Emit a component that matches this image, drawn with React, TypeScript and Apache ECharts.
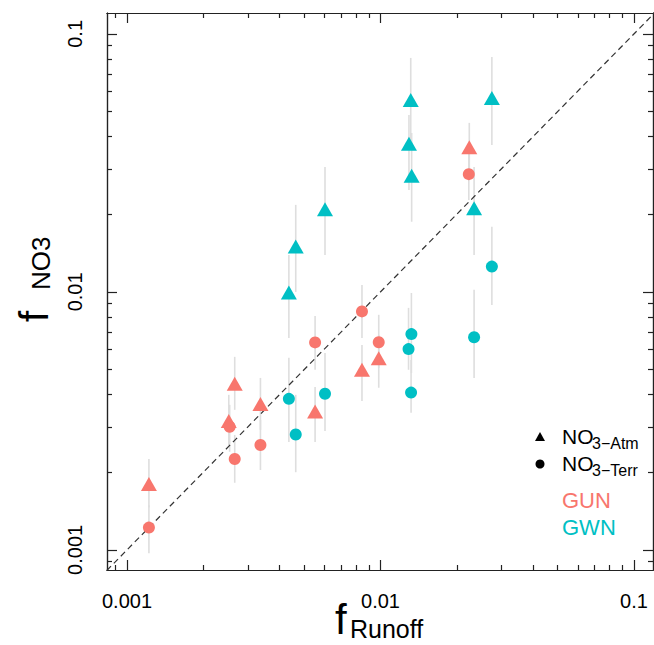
import React, { useEffect, useRef } from 'react';
import * as echarts from 'echarts';

const GUN_COLOR = '#F8766D';
const GWN_COLOR = '#00BFC4';
const BAR_COLOR = '#dedede';
const FONT = '"Liberation Sans", Arial, Helvetica, sans-serif';

// axis extents (log10 space)
const X_LOG_MIN = -3.079;
const X_LOG_MAX = -0.925;
const Y_LOG_MIN = -3.078;
const Y_LOG_MAX = -0.919;

// ticks
const majorTicks = [0.001, 0.01, 0.1];
const tickLabels = ['0.001', '0.01', '0.1'];
const minorTicks = [
  0.0009,
  0.002, 0.003, 0.004, 0.005, 0.006, 0.007, 0.008, 0.009,
  0.02, 0.03, 0.04, 0.05, 0.06, 0.07, 0.08, 0.09,
];
const oneToOne = [0.0005, 0.2];

// GUN – NO3-Atm (triangles)
const gunAtmRunoff = [0.00122, 0.00252, 0.00266, 0.00336, 0.00552, 0.00845, 0.00984, 0.0224];
const gunAtmF = [0.0018, 0.00316, 0.0044, 0.00368, 0.00344, 0.00499, 0.00553, 0.0364];
const gunAtmLo = [0.00146, 0.00255, 0.00349, 0.00292, 0.00262, 0.00378, 0.00425, 0.0284];
const gunAtmHi = [0.00225, 0.00399, 0.0056, 0.00464, 0.00428, 0.00623, 0.00681, 0.0452];

// GUN – NO3-Terr (circles)
const gunTerrRunoff = [0.00122, 0.00254, 0.00266, 0.00336, 0.00552, 0.00845, 0.00984, 0.0223];
const gunTerrF = [0.00122, 0.003, 0.00225, 0.00255, 0.00637, 0.0084, 0.00638, 0.0286];
const gunTerrLo = [0.00097, 0.0024, 0.00182, 0.00204, 0.00499, 0.00663, 0.00507, 0.0227];
const gunTerrHi = [0.00149, 0.00365, 0.00279, 0.00319, 0.00807, 0.01064, 0.00815, 0.0355];

// GWN – NO3-Atm (triangles)
const gwnAtmRunoff = [0.00435, 0.00463, 0.00604, 0.01316, 0.01295, 0.01327, 0.0275, 0.0234];
const gwnAtmF = [0.00994, 0.015, 0.0209, 0.0554, 0.0375, 0.0282, 0.0564, 0.0211];
const gwnAtmLo = [0.00663, 0.01, 0.0139, 0.0388, 0.0248, 0.0187, 0.0371, 0.0139];
const gwnAtmHi = [0.0139, 0.02174, 0.0305, 0.0807, 0.0485, 0.0413, 0.0814, 0.0305];

// GWN – NO3-Terr (circles)
const gwnTerrRunoff = [0.00435, 0.00463, 0.00604, 0.01324, 0.0129, 0.0132, 0.0234, 0.0275];
const gwnTerrF = [0.00385, 0.0028, 0.00403, 0.00686, 0.006, 0.00407, 0.00667, 0.01253];
const gwnTerrLo = [0.00262, 0.002, 0.00289, 0.00485, 0.00499, 0.0034, 0.00464, 0.0089];
const gwnTerrHi = [0.00555, 0.00399, 0.0058, 0.0099, 0.00867, 0.00545, 0.0102, 0.0179];

const L = (v: number) => Math.log10(v);

const pts = (xs: number[], ys: number[]) => xs.map((x, i) => [L(x), L(ys[i])]);
const bars = (xs: number[], lo: number[], hi: number[]) =>
  xs.map((x, i) => [L(x), L(lo[i]), L(hi[i])]);

const labelFormatter = (v: number) => {
  const i = majorTicks.findIndex((t) => Math.abs(L(t) - v) < 1e-6);
  return i >= 0 ? tickLabels[i] : '';
};

export default function App() {
  const ref = useRef<HTMLDivElement>(null);

  useEffect(() => {
    if (!ref.current) return;
    document.body.style.margin = '0';
    const chart = echarts.init(ref.current, undefined, { renderer: 'svg' });

    const lineStyle = { color: '#222', width: 1.2 };
    const majorLog = majorTicks.map(L);
    const minorLog = minorTicks.map(L);

    const xBase = {
      type: 'value',
      min: X_LOG_MIN,
      max: X_LOG_MAX,
      splitLine: { show: false },
      axisLine: { show: true, onZero: false, lineStyle },
    };
    const yBase = {
      type: 'value',
      min: Y_LOG_MIN,
      max: Y_LOG_MAX,
      splitLine: { show: false },
      axisLine: { show: true, onZero: false, lineStyle },
    };
    const tick = (vals: number[], len: number) => ({
      show: true,
      inside: true,
      length: len,
      customValues: vals,
      lineStyle,
    });
    const noLabel = { show: false };

    const allBars = [
      ...bars(gunAtmRunoff, gunAtmLo, gunAtmHi),
      ...bars(gunTerrRunoff, gunTerrLo, gunTerrHi),
      ...bars(gwnAtmRunoff, gwnAtmLo, gwnAtmHi),
      ...bars(gwnTerrRunoff, gwnTerrLo, gwnTerrHi),
    ];

    const option: any = {
      animation: false,
      backgroundColor: '#ffffff',
      grid: { left: 107, top: 13, right: 1, bottom: 75, containLabel: false },
      xAxis: [
        {
          ...xBase,
          position: 'bottom',
          axisTick: tick(majorLog, 10),
          axisLabel: {
            show: true,
            customValues: majorLog,
            formatter: labelFormatter,
            fontSize: 20,
            color: '#000',
            fontFamily: FONT,
            margin: 21,
          },
        },
        { ...xBase, position: 'bottom', axisTick: tick(minorLog, 5), axisLabel: noLabel },
        { ...xBase, position: 'top', axisTick: tick(majorLog, 10), axisLabel: noLabel },
        { ...xBase, position: 'top', axisTick: tick(minorLog, 5), axisLabel: noLabel },
      ],
      yAxis: [
        {
          ...yBase,
          position: 'left',
          axisTick: tick(majorLog, 10),
          axisLabel: {
            show: true,
            customValues: majorLog,
            formatter: labelFormatter,
            fontSize: 20,
            color: '#000',
            fontFamily: FONT,
            margin: 22,
            rotate: 90,
          },
        },
        { ...yBase, position: 'left', axisTick: tick(minorLog, 5), axisLabel: noLabel },
        { ...yBase, position: 'right', axisTick: tick(majorLog, 10), axisLabel: noLabel },
        { ...yBase, position: 'right', axisTick: tick(minorLog, 5), axisLabel: noLabel },
      ],
      series: [
        {
          type: 'custom',
          name: 'errorbars',
          xAxisIndex: 0,
          yAxisIndex: 0,
          silent: true,
          z: 1,
          data: allBars,
          renderItem: (params: any, api: any) => {
            const p1 = api.coord([api.value(0), api.value(1)]);
            const p2 = api.coord([api.value(0), api.value(2)]);
            return {
              type: 'line',
              shape: { x1: p1[0], y1: p1[1], x2: p2[0], y2: p2[1] },
              style: { stroke: BAR_COLOR, lineWidth: 1.6 },
            };
          },
        },
        {
          type: 'line',
          name: '1:1',
          xAxisIndex: 0,
          yAxisIndex: 0,
          silent: true,
          z: 2,
          showSymbol: false,
          symbol: 'none',
          clip: true,
          data: oneToOne.map((v) => [L(v), L(v)]),
          lineStyle: { type: [6, 4], color: '#333', width: 1.2 },
        },
        {
          type: 'scatter',
          name: 'GUN NO3-Atm',
          xAxisIndex: 0,
          yAxisIndex: 0,
          z: 3,
          symbol: 'triangle',
          symbolSize: [16, 14],
          itemStyle: { color: GUN_COLOR, opacity: 1 },
          data: pts(gunAtmRunoff, gunAtmF),
        },
        {
          type: 'scatter',
          name: 'GUN NO3-Terr',
          xAxisIndex: 0,
          yAxisIndex: 0,
          z: 3,
          symbol: 'circle',
          symbolSize: 12,
          itemStyle: { color: GUN_COLOR, opacity: 1 },
          data: pts(gunTerrRunoff, gunTerrF),
        },
        {
          type: 'scatter',
          name: 'GWN NO3-Atm',
          xAxisIndex: 0,
          yAxisIndex: 0,
          z: 3,
          symbol: 'triangle',
          symbolSize: [16, 14],
          itemStyle: { color: GWN_COLOR, opacity: 1 },
          data: pts(gwnAtmRunoff, gwnAtmF),
        },
        {
          type: 'scatter',
          name: 'GWN NO3-Terr',
          xAxisIndex: 0,
          yAxisIndex: 0,
          z: 3,
          symbol: 'circle',
          symbolSize: 12,
          itemStyle: { color: GWN_COLOR, opacity: 1 },
          data: pts(gwnTerrRunoff, gwnTerrF),
        },
      ],
      graphic: [
        // axis titles
        {
          type: 'text',
          x: 335,
          y: 619,
          style: { text: 'f', fontSize: 42, fontFamily: FONT, fill: '#000', align: 'left', verticalAlign: 'middle' },
        },
        {
          type: 'text',
          x: 350,
          y: 629,
          style: { text: 'Runoff', fontSize: 25, fontFamily: FONT, fill: '#000', align: 'left', verticalAlign: 'middle' },
        },
        {
          type: 'text',
          x: 34,
          y: 322,
          rotation: Math.PI / 2,
          style: { text: 'f', fontSize: 40, fontFamily: FONT, fill: '#000', align: 'left', verticalAlign: 'middle' },
        },
        {
          type: 'text',
          x: 41,
          y: 290,
          rotation: Math.PI / 2,
          style: { text: 'NO3', fontSize: 26, fontFamily: FONT, fill: '#000', align: 'left', verticalAlign: 'middle' },
        },
        // legend: shapes
        {
          type: 'polygon',
          shape: { points: [[535, 441], [545, 441], [540, 432]] },
          style: { fill: '#000' },
        },
        {
          type: 'circle',
          shape: { cx: 540, cy: 464, r: 4.5 },
          style: { fill: '#000' },
        },
        {
          type: 'text',
          x: 562,
          y: 436,
          style: { text: 'NO', fontSize: 21, fontFamily: FONT, fill: '#000', align: 'left', verticalAlign: 'middle' },
        },
        {
          type: 'text',
          x: 592,
          y: 443,
          style: { text: '3\u2212Atm', fontSize: 16, fontFamily: FONT, fill: '#000', align: 'left', verticalAlign: 'middle' },
        },
        {
          type: 'text',
          x: 562,
          y: 463,
          style: { text: 'NO', fontSize: 21, fontFamily: FONT, fill: '#000', align: 'left', verticalAlign: 'middle' },
        },
        {
          type: 'text',
          x: 592,
          y: 470,
          style: { text: '3\u2212Terr', fontSize: 16, fontFamily: FONT, fill: '#000', align: 'left', verticalAlign: 'middle' },
        },
        {
          type: 'text',
          x: 562,
          y: 500,
          style: { text: 'GUN', fontSize: 22, fontFamily: FONT, fill: GUN_COLOR, align: 'left', verticalAlign: 'middle' },
        },
        {
          type: 'text',
          x: 562,
          y: 527,
          style: { text: 'GWN', fontSize: 22, fontFamily: FONT, fill: GWN_COLOR, align: 'left', verticalAlign: 'middle' },
        },
      ],
    };

    chart.setOption(option);
    return () => chart.dispose();
  }, []);

  return (
    <div
      ref={ref}
      style={{ position: 'fixed', left: 0, top: 0, width: 654, height: 645, background: '#fff' }}
    />
  );
}
